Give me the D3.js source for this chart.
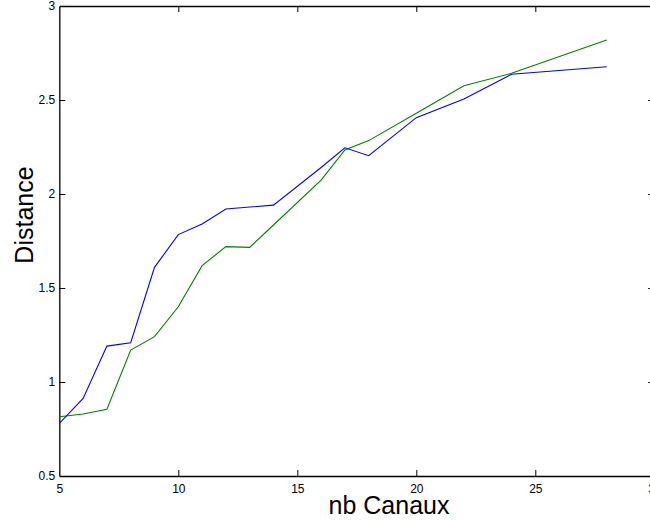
<!DOCTYPE html>
<html>
<head>
<meta charset="utf-8">
<script src="https://cdn.jsdelivr.net/npm/d3@7"></script>
<style>
  html, body { margin: 0; padding: 0; background: #fff; overflow: hidden; }
  svg { display: block; }
  text { font-family: "Liberation Sans", Arial, Helvetica, sans-serif; fill: #000; }
</style>
</head>
<body>
<svg id="chart" width="650" height="520"></svg>
<script>
// Number of channels vs. distance, two runs
const blueX  = [5, 6, 7, 8, 9, 10, 11, 12, 14, 16, 17, 18, 20, 22, 24, 28];
const blueY  = [0.780, 0.913, 1.191, 1.209, 1.610, 1.784, 1.840, 1.920, 1.941, 2.141, 2.246, 2.204, 2.406, 2.505, 2.637, 2.677];
const greenX = [5, 6, 7, 8, 9, 10, 11, 12, 13, 14, 16, 17, 18, 20, 22, 24, 28];
const greenY = [0.815, 0.830, 0.855, 1.170, 1.241, 1.400, 1.619, 1.720, 1.716, 1.835, 2.074, 2.234, 2.284, 2.430, 2.576, 2.642, 2.819];
const xTicks = [5, 10, 15, 20, 25, 30];
const yTicks = [0.5, 1, 1.5, 2, 2.5, 3];
const xTitle = "nb Canaux";
const yTitle = "Distance";

const svg = d3.select("#chart");
const plotLeft = 59.3, plotRight = 654.3, plotTop = 6, plotBottom = 476;

const x = d3.scaleLinear().domain([5, 30]).range([plotLeft, plotRight]);
const y = d3.scaleLinear().domain([0.5, 3]).range([plotBottom, plotTop]);
const tickLen = 6;

svg.append("defs").append("clipPath").attr("id", "plotClip")
  .append("rect").attr("x", plotLeft).attr("y", plotTop)
  .attr("width", plotRight - plotLeft).attr("height", plotBottom - plotTop);

// Bottom axis: labels outside, ticks pointing inward
const gx = svg.append("g").attr("transform", `translate(0,${plotBottom})`)
  .call(d3.axisBottom(x).tickValues(xTicks).tickFormat(d3.format("d"))
    .tickSizeInner(-tickLen).tickSizeOuter(0).tickPadding(8));
// Left axis
const gy = svg.append("g").attr("transform", `translate(${plotLeft},0)`)
  .call(d3.axisLeft(y).tickValues(yTicks).tickFormat(d => String(d))
    .tickSizeInner(-tickLen).tickSizeOuter(0).tickPadding(4));
// Top and right box edges with inward ticks, no labels
const gt = svg.append("g").attr("transform", `translate(0,${plotTop})`)
  .call(d3.axisTop(x).tickValues(xTicks).tickFormat("")
    .tickSizeInner(-tickLen).tickSizeOuter(0));
const gr = svg.append("g").attr("transform", `translate(${plotRight},0)`)
  .call(d3.axisRight(y).tickValues(yTicks).tickFormat("")
    .tickSizeInner(-tickLen).tickSizeOuter(0));

[gx, gy, gt, gr].forEach(g => {
  g.select(".domain").attr("stroke", "#000").attr("stroke-width", 1.3);
  g.selectAll(".tick line").attr("stroke", "#000").attr("stroke-width", 1);
  g.selectAll(".tick text").style("font-size", "12px").attr("fill", "#000");
});
// Skip the tick marks that sit on the box corners
gx.selectAll(".tick line").filter(d => d === 5 || d === 30).remove();
gt.selectAll(".tick line").filter(d => d === 5 || d === 30).remove();
gy.selectAll(".tick line").filter(d => d === 0.5 || d === 3).remove();
gr.selectAll(".tick line").filter(d => d === 0.5 || d === 3).remove();

// Data lines
const plot = svg.append("g").attr("clip-path", "url(#plotClip)");
const line = d3.line().x(d => x(d[0])).y(d => y(d[1]));

plot.append("path")
  .datum(greenX.map((v, i) => [v, greenY[i]]))
  .attr("d", line).attr("fill", "none")
  .attr("stroke", "#008000").attr("stroke-width", 1.1);

plot.append("path")
  .datum(blueX.map((v, i) => [v, blueY[i]]))
  .attr("d", line).attr("fill", "none")
  .attr("stroke", "#0000ff").attr("stroke-width", 1.1);

// Axis titles
svg.append("text")
  .attr("x", 389).attr("y", 514)
  .attr("text-anchor", "middle")
  .style("font-size", "25px")
  .text(xTitle);

svg.append("text")
  .attr("transform", "translate(33,215) rotate(-90)")
  .attr("text-anchor", "middle")
  .style("font-size", "25px")
  .text(yTitle);
</script>
</body>
</html>
